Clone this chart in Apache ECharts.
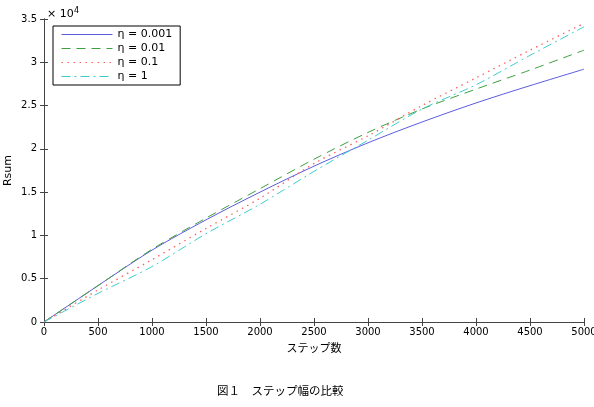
<!DOCTYPE html>
<html><head><meta charset="utf-8">
<script src="https://cdn.jsdelivr.net/npm/echarts@6/dist/echarts.min.js"></script>
<style>html,body{margin:0;padding:0;background:#fff}#c{width:594px;height:407px}</style>
</head><body><div id="c"></div>
<script>
const steps = [0, 500, 1000, 1500, 2000, 2500, 3000, 3500, 4000, 4500, 5000];
const eta0001 = [0, 0.42, 0.83, 1.18, 1.50, 1.80, 2.07, 2.31, 2.53, 2.73, 2.92];
const eta001  = [0, 0.42, 0.84, 1.20, 1.54, 1.88, 2.19, 2.46, 2.69, 2.91, 3.14];
const eta01   = [0, 0.37, 0.72, 1.08, 1.43, 1.83, 2.15, 2.50, 2.82, 3.14, 3.45];
const eta1    = [0, 0.33, 0.64, 1.02, 1.36, 1.74, 2.10, 2.46, 2.74, 3.08, 3.41];
const seriesNames = ['η = 0.001', 'η = 0.01', 'η = 0.1', 'η = 1'];
const xTicks = [0, 500, 1000, 1500, 2000, 2500, 3000, 3500, 4000, 4500, 5000];
const yTicks = [0, 0.5, 1, 1.5, 2, 2.5, 3, 3.5];

const pairs = a => steps.map((s, i) => [s, a[i]]);
const chart = echarts.init(document.getElementById('c'));
const lab = {color: '#000', fontSize: 10, fontFamily: 'DejaVu Sans, sans-serif'};
const axLine = {lineStyle: {color: '#444', width: 1}};
chart.setOption({
  animation: false,
  backgroundColor: '#fff',
  grid: {left: 44, right: 10, top: 19, bottom: 85, containLabel: false, outerBoundsMode: 'none'},
  title: [
    {text: '図１　ステップ幅の比較', left: 212, top: 380,
     textStyle: {fontSize: 11.5, fontWeight: 'normal', color: '#000', fontFamily: 'Noto Sans CJK JP'}},
    {text: '× 10', left: 42, top: 4,
     textStyle: {fontSize: 11, fontWeight: 'normal', color: '#000', fontFamily: 'DejaVu Sans'}},
    {text: '4', left: 69, top: 2,
     textStyle: {fontSize: 8, fontWeight: 'normal', color: '#000', fontFamily: 'DejaVu Sans'}}
  ],
  legend: {
    orient: 'vertical', left: 53, top: 26, itemWidth: 51, itemHeight: 10, itemGap: 3,
    padding: [3, 8, 3, 8], borderColor: '#000', borderWidth: 1, backgroundColor: '#fff',
    itemStyle: {opacity: 0}, lineStyle: {width: 1},
    textStyle: {color: '#000', fontSize: 11, fontFamily: 'DejaVu Sans'},
    data: seriesNames
  },
  xAxis: [
    {type: 'value', min: 0, max: 5000, interval: 500, name: 'ステップ数',
     nameLocation: 'middle', nameGap: 20, nameMoveOverlap: false,
     nameTextStyle: {color: '#000', fontSize: 11, fontFamily: 'Noto Sans CJK JP'},
     axisLine: axLine, axisTick: {inside: true, length: 4, lineStyle: {color: '#444'}},
     axisLabel: Object.assign({margin: 5, formatter: v => xTicks.includes(v) ? String(v) : ''}, lab),
     splitLine: {show: false}},
    {type: 'value', position: 'top', min: 0, max: 5000, interval: 500,
     axisLine: axLine, axisTick: {inside: true, length: 4, lineStyle: {color: '#444'}},
     axisLabel: {show: false}, splitLine: {show: false}}
  ],
  yAxis: [
    {type: 'value', min: 0, max: 3.5, interval: 0.5, name: 'Rsum',
     nameLocation: 'middle', nameGap: 30, nameRotate: 90, nameMoveOverlap: false,
     nameTextStyle: {color: '#000', fontSize: 11, fontFamily: 'DejaVu Sans'},
     axisLine: {show: true, lineStyle: {color: '#444', width: 1}},
     axisTick: {show: true, inside: true, length: 4, lineStyle: {color: '#444'}},
     axisLabel: Object.assign({margin: 7, formatter: v => yTicks.includes(v) ? String(v) : ''}, lab),
     splitLine: {show: false}},
    {type: 'value', position: 'right', min: 0, max: 3.5, interval: 0.5,
     axisLine: {show: true, lineStyle: {color: '#444', width: 1}},
     axisTick: {show: true, inside: true, length: 4, lineStyle: {color: '#444'}},
     axisLabel: {show: false}, splitLine: {show: false}}
  ],
  series: [
    {name: seriesNames[0], type: 'line', data: pairs(eta0001), symbol: 'none', smooth: 0.3,
     lineStyle: {color: '#5c5ce0', width: 1}, itemStyle: {color: '#5c5ce0'}},
    {name: seriesNames[1], type: 'line', data: pairs(eta001), symbol: 'none', smooth: 0.3,
     lineStyle: {color: '#3f9f3f', width: 1, type: [9, 6]}, itemStyle: {color: '#3f9f3f'}},
    {name: seriesNames[2], type: 'line', data: pairs(eta01), symbol: 'none', smooth: 0.3,
     lineStyle: {color: '#ff6060', width: 1.3, type: [1.5, 4.5]}, itemStyle: {color: '#ff6060'}},
    {name: seriesNames[3], type: 'line', data: pairs(eta1), symbol: 'none', smooth: 0.3,
     lineStyle: {color: '#40cccc', width: 1, type: [9, 4, 2, 4]}, itemStyle: {color: '#40cccc'}}
  ]
});
</script></body></html>
